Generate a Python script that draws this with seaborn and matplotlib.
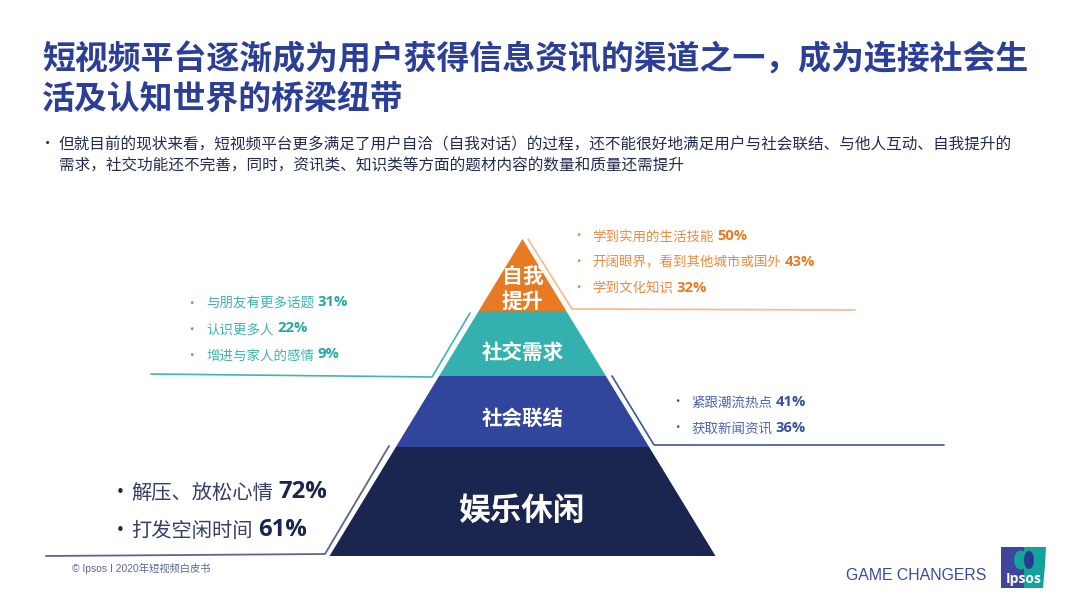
import matplotlib
matplotlib.use("Agg")
import matplotlib.pyplot as plt
import seaborn as sns
from matplotlib.patches import Ellipse

sns.set_theme(style="white")
CJK = ['Noto Sans CJK SC', 'DejaVu Sans']
plt.rcParams['font.family'] = CJK

title_lines = ["短视频平台逐渐成为用户获得信息资讯的渠道之一，成为连接社会生", "活及认知世界的桥梁纽带"]
body_lines = ["但就目前的现状来看，短视频平台更多满足了用户自洽（自我对话）的过程，还不能很好地满足用户与社会联结、与他人互动、自我提升的",
              "需求，社交功能还不完善，同时，资讯类、知识类等方面的题材内容的数量和质量还需提升"]
levels = ["娱乐休闲", "社会联结", "社交需求", "自我\n提升"]
level_colors = ["#1A2550", "#30459B", "#34B1AF", "#E97A24"]

leisure_labels = ["解压、放松心情", "打发空闲时间"]
leisure_values = [72, 61]
connect_labels = ["紧跟潮流热点", "获取新闻资讯"]
connect_values = [41, 36]
social_labels = ["与朋友有更多话题", "认识更多人", "增进与家人的感情"]
social_values = [31, 22, 9]
growth_labels = ["学到实用的生活技能", "开阔眼界，看到其他城市或国外", "学到文化知识"]
growth_values = [50, 43, 32]

fig = plt.figure(figsize=(10.8, 6.08), dpi=100, facecolor="white")
ax = fig.add_axes([0, 0, 1, 1])
ax.set_xlim(0, 1080)
ax.set_ylim(608, 0)
ax.axis("off")

# title / body
TITLE = "#2C3F98"
for line, y in zip(title_lines, [60, 99]):
    ax.text(42, y, line, fontsize=23.7, fontweight="bold", color=TITLE, va="center", ha="left")
ax.text(40, 144, "•", fontsize=11, color="#1A2550", va="center", ha="left")
for line, y in zip(body_lines, [145, 165]):
    ax.text(59, y, line, fontsize=11.25, color="#232B4F", va="center", ha="left")

# pyramid
cx, top, base, half = 522.5, 239, 556, 193
edges = [556, 447, 376, 311, 239]
def hw(y):
    return half * (y - top) / (base - top)
for i, (name, col) in enumerate(zip(levels, level_colors)):
    yb, yt = edges[i], edges[i + 1]
    ax.fill([cx - hw(yb), cx + hw(yb), cx + hw(yt), cx - hw(yt)], [yb, yb, yt, yt], color=col, lw=0, zorder=2)
ax.text(cx, 511, levels[0], color="white", fontsize=22.8, fontweight="bold", ha="center", va="center", zorder=3)
ax.text(cx, 418.5, levels[1], color="white", fontsize=14.8, fontweight="bold", ha="center", va="center", zorder=3)
ax.text(cx, 352.5, levels[2], color="white", fontsize=14.8, fontweight="bold", ha="center", va="center", zorder=3)
ax.text(cx, 276, "自我", color="white", fontsize=15, fontweight="bold", ha="center", va="center", zorder=3)
ax.text(cx, 301, "提升", color="white", fontsize=15, fontweight="bold", ha="center", va="center", zorder=3)

# leader lines
ax.plot([46, 325, 389], [556, 554, 446], color="#5C668C", lw=1.3, zorder=1)
ax.plot([612, 654, 944], [376, 445, 445], color="#3F54A6", lw=1.2, zorder=1)
ax.plot([151, 432, 470], [374, 377, 313], color="#3DB6B4", lw=1.2, zorder=1)
ax.plot([528, 572, 855], [239, 309, 310], color="#F5BE93", lw=1.3, zorder=1)

# lists
renderer = fig.canvas.get_renderer()
def item(x_bullet, x_text, y, label, value, color, fs, fs_val, bullet_fs, gap):
    ax.text(x_bullet, y + 1, "•", fontsize=bullet_fs, color=color, va="center", ha="left")
    t = ax.text(x_text, y + 1.5, label, fontsize=fs, color=color, alpha=0.88, va="center", ha="left")
    ext = t.get_window_extent(renderer)
    ax.text(ext.x1 + gap, y + 0.5, f"{value}%", fontsize=fs_val, fontweight="bold", color=color, va="center", ha="left",
            family=['Open Sans', 'DejaVu Sans'])

ORANGE, TEAL, BLUE, NAVY = "#E97A24", "#22A9A7", "#3A4EA2", "#1A2550"
for lab, v, y in zip(growth_labels, growth_values, [235, 261, 287]):
    item(572, 592, y, lab, v, ORANGE, 9.7, 10.6, 9, 3.5)
for lab, v, y in zip(social_labels, social_values, [302, 328, 354]):
    item(185, 206, y, lab, v, TEAL, 9.7, 10.6, 9, 3.5)
for lab, v, y in zip(connect_labels, connect_values, [401, 427]):
    item(671, 691, y, lab, v, BLUE, 9.7, 10.6, 9, 3.5)
for lab, v, y in zip(leisure_labels, leisure_values, [492, 530]):
    item(110, 131, y, lab, v, NAVY, 14.6, 17.2, 15, 6)

# footer
ax.text(72, 568, "© Ipsos I 2020年短视频白皮书", fontsize=7.4, color="#5A6899", va="center", ha="left",
        family=['Liberation Sans', 'Noto Sans CJK SC'])
ax.text(846, 575, "GAME CHANGERS", fontsize=11.4, color="#3B4CA0", va="center", ha="left", family="Liberation Sans")

# logo
ax.fill([1001, 1024, 1024, 1001], [547, 547, 588, 588], color="#3F459C", lw=0, zorder=2)
ax.fill([1024, 1046, 1045, 1043, 1024], [547, 547, 566, 588, 588], color="#14A39B", lw=0, zorder=2)
ax.add_patch(Ellipse((1021, 560), 14, 19, color="#14A39B", lw=0, zorder=3))
ax.add_patch(Ellipse((1029, 560), 10, 18, color="#2C3A92", lw=0, zorder=3))
ax.text(1023.5, 578.5, "Ipsos", fontsize=10, fontweight="bold", color="white", ha="center", va="center", zorder=4,
        family="Open Sans")

fig.savefig("out.png", dpi=100)
